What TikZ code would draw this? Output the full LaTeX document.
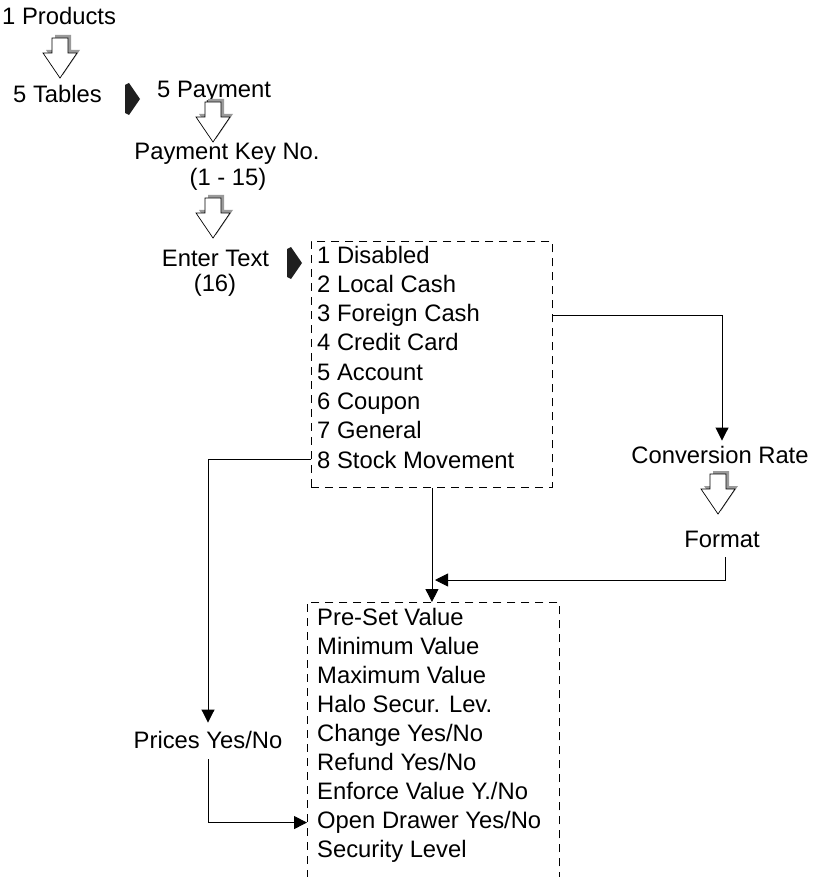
\documentclass[tikz,border=0pt]{standalone}
\usepackage{fontspec}
\setmainfont{Liberation Sans}
\usetikzlibrary{arrows.meta}
\definecolor{shadowgray}{HTML}{9A9A9A}
\tikzset{
  hollowdown/.pic={
    \fill[shadowgray, shift={(3,-3)}] (0,0) -- (-17,-25) -- (-8,-25) -- (-8,-40) -- (8,-40) -- (8,-25) -- (17,-25) -- cycle;
    \filldraw[fill=white, draw=black, line width=0.7pt] (0,0) -- (-17,-25) -- (-8,-25) -- (-8,-40) -- (8,-40) -- (8,-25) -- (17,-25) -- cycle;
  },
  blackright/.pic={
    \fill[black!88] (-7,-14) -- (-3,-16) -- (8,0) -- (-3,16) -- (-7,14) -- cycle;
  }
}
\begin{document}
\begin{tikzpicture}[x=1pt,y=-1pt,
  lbl/.style={inner sep=0pt, font=\fontsize{23.8}{29}\selectfont},
  dbox/.style={draw, dash pattern=on 8pt off 6pt, line width=0.9pt, inner sep=0pt},
  conn/.style={line width=0.9pt},
  tip/.style={-{Triangle[length=13pt,width=13pt]}}]
\useasboundingbox (0,0) rectangle (817,877);
\clip (0,0) rectangle (817,877);

% left chain
\node[lbl, anchor=base west] (prod) at (2,25) {1 Products};
\node[lbl, anchor=base west] (tables) at (13,103) {5 Tables};
\node[lbl, anchor=base west] (pay) at (157,98) {5 Payment};
\node[lbl, anchor=base] (pkey) at (227,160) {Payment Key No.};
\node[lbl, anchor=base] (range) at (228,186) {(1 - 15)};
\node[lbl, anchor=base] (enter) at (215.5,266) {Enter Text};
\node[lbl, anchor=base] (sixteen) at (215,291) {(16)};

\pic at (60,78) {hollowdown};
\pic at (213,142) {hollowdown};
\pic at (213,238) {hollowdown};
\pic at (132,99) {blackright};
\pic at (294,263) {blackright};

% payment type box
\node[dbox, minimum width=241pt, minimum height=246pt, anchor=north west] (typebox) at (311,241) {};
\foreach \t [count=\i] in {1 Disabled, 2 Local Cash, 3 Foreign Cash, 4 Credit Card, 5 Account, 6 Coupon, 7 General, 8 Stock Movement}
  \node[lbl, anchor=base west] (t\i) at (317,{263+29.3*(\i-1)}) {\t};

% options box
\node[dbox, minimum width=252pt, minimum height=320pt, anchor=north west] (optbox) at (307,602) {};
\foreach \t [count=\i] in {Pre-Set Value, Minimum Value, Maximum Value, Halo Secur. Lev., Change Yes/No, Refund Yes/No, Enforce Value Y./No, Open Drawer Yes/No, Security Level}
  \node[lbl, anchor=base west] (p\i) at (317,{625+29.1*(\i-1)}) {\t};

% right side
\node[lbl, anchor=base] (conv) at (720,463) {Conversion Rate};
\node[lbl, anchor=base] (fmt) at (722,547) {Format};
\pic at (718,514) {hollowdown};

% left side
\node[lbl, anchor=base] (prices) at (208,748) {Prices Yes/No};

\coordinate (merge) at (435,580);

% connectors
\draw[conn,tip] (typebox.east |- t3) -| ([xshift=2pt,yshift=5pt]conv.north);
\draw[conn,tip] ([xshift=3pt,yshift=-10pt]fmt.south) |- (merge);
\draw[conn,tip] (typebox.south) -- (typebox.south |- optbox.north);
\draw[conn,tip] (typebox.west |- t8) -| ([yshift=8pt]prices.north);
\draw[conn,tip] ([yshift=-11pt]prices.south) |- (optbox.west |- p8);
\end{tikzpicture}
\end{document}
